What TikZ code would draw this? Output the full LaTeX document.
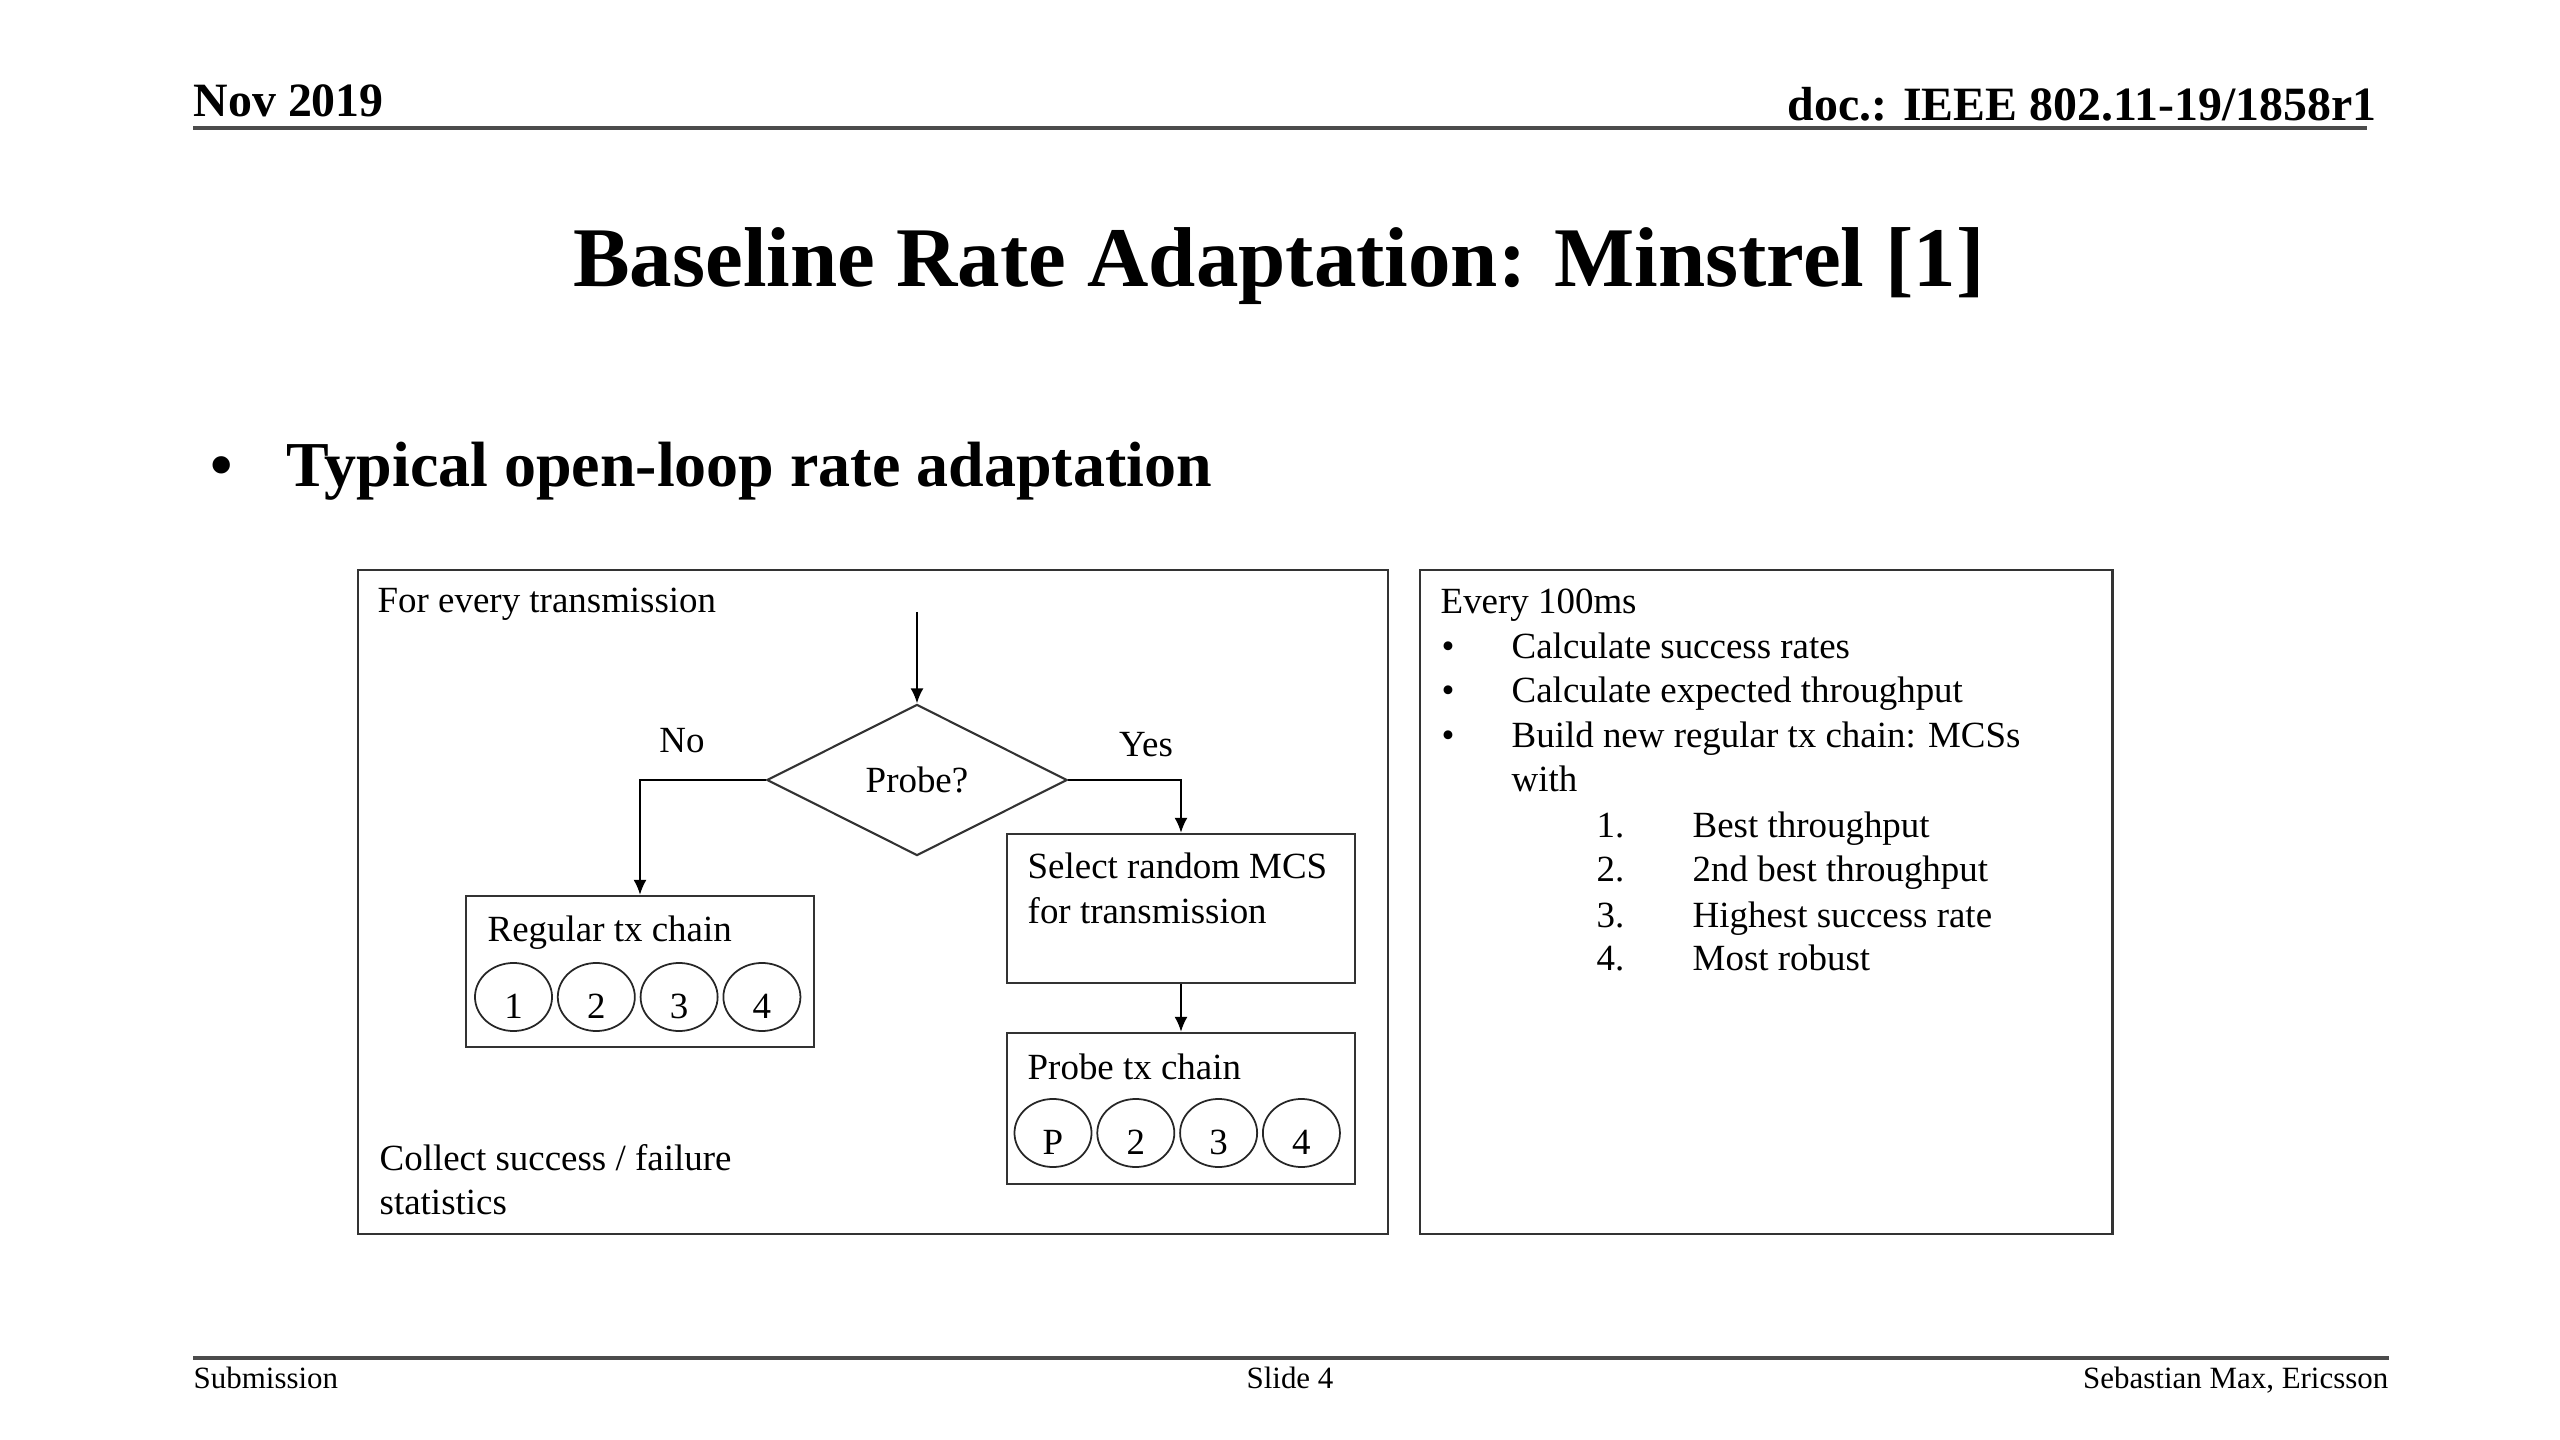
\documentclass[tikz,border=0pt]{standalone}
\usepackage{fontspec}
\setmainfont{Liberation Serif}
\usetikzlibrary{positioning,shapes.geometric,arrows.meta}

\begin{document}
\begin{tikzpicture}[x=0.01cm,y=-0.01cm,
  every node/.style={inner sep=0pt, font=\fontsize{10.5}{13}\selectfont},
  hdr/.style={font=\fontsize{13.6}{16}\selectfont\bfseries},
  foot/.style={font=\fontsize{8.8}{10}\selectfont},
  panel/.style={draw=black!80, line width=0.6pt, anchor=north west},
  txbox/.style={draw=black!80, line width=0.6pt,
    minimum width=3.48cm, minimum height=1.51cm},
  mcs/.style={ellipse, draw=black!85, line width=0.5pt,
    minimum width=0.77cm, minimum height=0.68cm,
    text height=0.42cm, text depth=0pt},
  flow/.style={-{Latex[length=1.5mm,width=1.3mm]}, line width=0.6pt},
  rule/.style={line width=0.9pt, black!70}]
  \useasboundingbox (0,0) rectangle (2560,1440);

  \node[hdr, anchor=base west] (date) at (193,117) {Nov 2019};
  \node[hdr, anchor=base east] (docnr) at (2377,121) {doc.: IEEE 802.11-19/1858r1};
  \draw[rule] (193,128) -- (2367,128);

  \node[anchor=base, font=\fontsize{24.15}{28}\selectfont\bfseries] (title)
    at (1279,287) {Baseline Rate Adaptation: Minstrel [1]};
  \node[anchor=base west, font=\fontsize{18.2}{22}\selectfont\bfseries] (dot)
    at (210,487) {\textbullet};
  \node[anchor=base west, font=\fontsize{18.2}{22}\selectfont\bfseries] (topic)
    at (286,487) {Typical open-loop rate adaptation};

  \node[panel, minimum width=10.29cm, minimum height=6.64cm] (loop) at (357,569) {};
  \node[anchor=base west] (every) at (377,613) {For every transmission};
  \coordinate (start) at (917,612);
  \node[diamond, draw=black!80, line width=0.6pt, aspect=2,
    minimum width=3.0cm, minimum height=1.51cm] (probe) at (917,780) {Probe?};
  \node (no) at (682,741) {No};
  \node (yes) at (1146,745) {Yes};

  \node[txbox, minimum width=3.47cm] (reg) at (640,971.5) {};
  \node[anchor=base west] (regtxt) at (487,942) {Regular tx chain};
  \node[mcs] (r1) at (513.5,997) {1};
  \node[mcs, right=0.4mm of r1] (r2) {2};
  \node[mcs, right=0.4mm of r2] (r3) {3};
  \node[mcs, right=0.4mm of r3] (r4) {4};

  \node[txbox, minimum height=1.49cm] (sel) at (1181,908.5) {};
  \node[anchor=base west] (seltxt) at (1027,879) {Select random MCS};
  \node[anchor=base west] (seltxtb) at (1027,923) {for transmission};

  \node[txbox] (pbox) at (1181,1108.5) {};
  \node[anchor=base west] (pboxtxt) at (1027,1079) {Probe tx chain};
  \node[mcs] (p1) at (1053,1133) {P};
  \node[mcs, right=0.4mm of p1] (p2) {2};
  \node[mcs, right=0.4mm of p2] (p3) {3};
  \node[mcs, right=0.4mm of p3] (p4) {4};

  \node[anchor=base west] (collect) at (379,1170) {Collect success / failure};
  \node[anchor=base west] (collectb) at (379,1214) {statistics};

  \draw[flow] (start) -- (probe.north);
  \draw[flow] (probe.west) -| (reg.north);
  \draw[flow] (probe.east) -| (sel.north);
  \draw[flow] (sel.south) -- (pbox.north);

  \node[panel, minimum width=6.92cm, minimum height=6.64cm] (stats) at (1419,569) {};
  \node[anchor=base west] (period) at (1440,614) {Every 100ms};
  \node[anchor=base west] (b1) at (1441,659) {\textbullet};
  \node[anchor=base west] (b1txt) at (1511,659) {Calculate success rates};
  \node[anchor=base west] (b2) at (1441,703) {\textbullet};
  \node[anchor=base west] (b2txt) at (1511,703) {Calculate expected throughput};
  \node[anchor=base west] (b3) at (1441,748) {\textbullet};
  \node[anchor=base west] (b3txt) at (1511,748) {Build new regular tx chain: MCSs};
  \node[anchor=base west] (b3txtb) at (1511,791) {with};
  \node[anchor=base west] (n1) at (1596,838) {1.};
  \node[anchor=base west] (n1txt) at (1692,838) {Best throughput};
  \node[anchor=base west] (n2) at (1596,882) {2.};
  \node[anchor=base west] (n2txt) at (1692,882) {2nd best throughput};
  \node[anchor=base west] (n3) at (1596,927) {3.};
  \node[anchor=base west] (n3txt) at (1692,927) {Highest success rate};
  \node[anchor=base west] (n4) at (1596,971) {4.};
  \node[anchor=base west] (n4txt) at (1692,971) {Most robust};

  \draw[rule] (193,1358) -- (2389,1358);
  \node[foot, anchor=base west] (sub) at (193,1388) {Submission};
  \node[foot, anchor=base] (slide) at (1290,1388) {Slide 4};
  \node[foot, anchor=base east] (auth) at (2389,1388) {Sebastian Max, Ericsson};
\end{tikzpicture}
\end{document}
